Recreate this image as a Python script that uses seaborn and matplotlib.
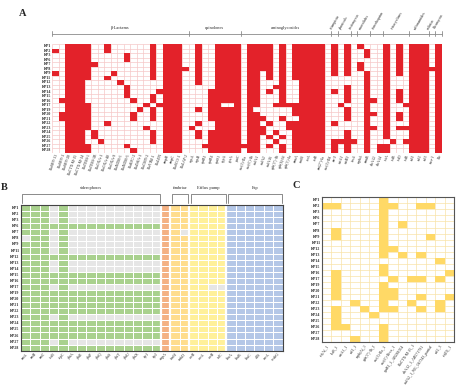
import numpy as np
import pandas as pd
import matplotlib
matplotlib.use('Agg')
from matplotlib import pyplot as plt
from matplotlib.colors import ListedColormap
import seaborn as sns

sns.set_theme(style='white')
plt.rcParams['font.family'] = ['Liberation Serif', 'DejaVu Serif']

W, H = 458, 390
TICK_FS = 2.8

strains = ['KP1', 'KP2', 'KP3', 'KP6', 'KP7', 'KP8', 'KP9', 'KP11', 'KP12', 'KP13', 'KP14', 'KP15',
           'KP16', 'KP17', 'KP19', 'KP20', 'KP21', 'KP22', 'KP23', 'KP24', 'KP25', 'KP26', 'KP27', 'KP28']

# ---- panel A: resistance genes (one string per gene, one char per strain)
res_classes = ['β-Lactams', 'quinolones', 'aminoglycosides', 'rifampicin', 'phenicols', 'fosfomycin',
               'macrolides', 'trimethoprim', 'tetracyclines', 'sulfonamides', 'colistin', 'bleomycin']
res_class_sizes = [21, 8, 14, 1, 2, 1, 2, 2, 4, 3, 1, 1]
res_genes = ['blaSHV-11', 'blaSHV-1', 'blaSHV-28', 'blaCTX-M-15', 'blaCTX-M-14', 'blaTEM-1', 'blaTEM-1B',
             'blaOXA-1', 'blaOXA-48', 'blaOXA-9', 'blaNDM-1', 'blaNDM-5', 'blaKPC-2', 'blaDHA-1',
             'blaCMY-2', 'blaVIM-1', 'blaLEN', 'ampH', 'ampC', 'blaSCO-1', 'blaLAP-2',
             'oqxA', 'oqxB', 'qnrB1', 'qnrB4', 'qnrS1', 'qepA', 'gyrA', 'parC',
             "aac(3)-IIa", "aac(6')-Ib", 'aadA1', 'aadA2', 'aadA16', "aph(3'')-Ib", 'aph(6)-Id',
             "aph(3')-Ia", 'armA', 'rmtB', 'strA', 'strB', "ant(2'')-Ia", 'aac(3)-IId',
             'arr-3', 'catA1', 'catB3', 'fosA', 'mphA', 'ermB', 'dfrA12', 'dfrA14',
             'tetA', 'tetB', 'tetD', 'tetR', 'sul1', 'sul2', 'sul3', 'mcr-1', 'ble']
res_presence = [
    '010000100000000000000000', '000000000000100110000000', '111111111111111111111111',
    '111111111111111111111111', '111111111111111111111111', '111111110000011111100011',
    '000010000000000000011000', '000000000000000000000100', '110000010000000001000000',
    '000000100000000000000000', '000000001000000000000000', '001100000111000000000010',
    '000000000000100110000001', '000000000000001000000000', '000000000000010000100000',
    '111111110001101110011100', '000000000010010000000000', '111111111111111111111111',
    '111111111111111111111111', '111111111111111111111111', '000001000000000000000000',
    '000000000000000000100000', '111111111000001001011000', '000000000000000000000010',
    '000000000011111110011111', '111111111111111111111111', '111111111111101111111111',
    '111111111111101111111111', '111111111111111111111111', '000000000000000000000010',
    '111111111111111111111111', '111111111111110111111111', '111111000000000010110000',
    '111111110010000001001010', '000000000100010000010100', '111111111111110010001011',
    '000000000000010001100000', '111111110000011101111111', '111111111111111111111111',
    '111111111111111111111111', '111111111111111111111111', '111111111111111111111111',
    '000000000000000000000000', '111111100010000001000111', '000000000000010000000100',
    '111111100111101110011111', '000000000000000000000100', '100011000000000000000000',
    '011000111111111111111111', '000000000000100100100000', '000000000000000000000011',
    '111111111111111111111011', '000000000000000000000100', '111111100011100110100000',
    '000000000000010000100100', '111111111111111111111111', '111111111111111111111111',
    '111111111111111111111111', '000001000000000000000000', '111111111111111111111111']

# ---- panel B: virulence genes (one string per strain)
vir_groups = ['siderophores', '', 'fimbriae', 'Efflux pump', 'Esp']
vir_group_sizes = [15, 1, 2, 4, 6]
vir_genes = ['entA', 'entB', 'entC', 'iroB', 'fepC', 'ybtA', 'ybtE', 'ybtP', 'ybtQ', 'ybtS', 'ybtT',
             'ybtU', 'ybtX', 'irp1', 'irp2', 'rmpA', 'fimH', 'mrkD', 'acrR', 'acrA', 'acrB', 'tolC',
             'kfuA', 'kfuB', 'kfuC', 'allS', 'ureA', 'wabG']
vir_presence = [
    '1110100000000001111111111111', '1110100000000001111111111111', '1110100000000001111111111111',
    '1111111111111111111111111111', '1110100000000001101111111111', '0110100000000001111111111111',
    '1110100000000001111111111111', '1110100000000001111111111111', '1111111111111111111111111111',
    '1110100000000001111111111111', '1110100000000001111111111111', '1111111111111111111111111111',
    '1111111111111111111111111111', '1110100000000001111100111111', '1111111111111111111111111111',
    '1111111111111111111111111111', '1111111111111111111111111111', '1111111111111111111111111111',
    '1110100000000001111111111111', '1111111111111111111111111111', '1111111111111111111111111111',
    '1111111111111111111111111111', '1110100000000001111111111111', '1111111111111111111111111111']
vir_colors = ['#e6e6e6', '#a9d18e', '#f4b183', '#ffdd8e', '#fff09a', '#b4c7e7']

# ---- panel C: plasmid / other genes (one string per strain)
pl_genes = ['tet(A)_1', 'floR_1', 'catA1_1', 'sul1_1', 'mph(A)_1', "aph(3'')-Ib_1", 'aac(3)-IIa_1',
            "aac(6')-Ib-cr_1", 'qnrB1_1_AB281054', 'blaCTX-M-15_1', 'dfrA12_1_AB571791',
            'aadA2_1_NG_047343_partial', 'sul2_3', 'tet(D)_1']
pl_presence = [
    '00000010000000', '11000011001100', '00000010000000', '00000010000000', '00000010100000',
    '01000010000000', '01000010000100', '00000010000000', '00000011000000', '00000010101000',
    '00000000000010', '00000010000000', '01000010000001', '01000001011010', '01000010000000',
    '01000011000000', '01000011001001', '00010010010010', '01001011001010', '01000100000000',
    '01000000000000', '01100010000000', '00000010000000', '00010010000000']


def px_axes(fig, x0, y0, x1, y1):
    return fig.add_axes([x0 / W, 1 - y1 / H, (x1 - x0) / W, (y1 - y0) / H])


def grid_under(ax, nr, nc, color):
    ax.hlines(np.arange(nr + 1), 0, nc, color=color, lw=0.5, zorder=0)
    ax.vlines(np.arange(nc + 1), 0, nr, color=color, lw=0.5, zorder=0)


def style_ticks(ax, rot, ha):
    ax.tick_params(length=0, pad=1)
    ax.set_yticklabels(ax.get_yticklabels(), rotation=0, fontsize=TICK_FS, fontweight='bold')
    ax.set_xticklabels(ax.get_xticklabels(), rotation=rot, ha=ha, rotation_mode='anchor',
                       fontsize=TICK_FS)
    ax.set_xlabel('')
    ax.set_ylabel('')


fig = plt.figure(figsize=(W / 100, H / 100), dpi=100)

# ================= A
a_mat = np.array([[int(ch) for ch in col] for col in res_presence]).T
df_a = pd.DataFrame(a_mat, index=strains, columns=res_genes)
axA = px_axes(fig, 52.3, 44, 441.7, 152.7)
grid_under(axA, *df_a.shape, '#f6c8c8')
sns.heatmap(df_a, mask=df_a == 0, cmap=ListedColormap(['#e3222a']), vmin=0, vmax=1, cbar=False,
            xticklabels=True, yticklabels=True, ax=axA)
style_ticks(axA, 70, 'right')

edges = np.cumsum([0] + res_class_sizes)
gray = '#8a8a8a'
axA.plot([0, edges[-1]], [-2.3, -2.3], color=gray, lw=0.6, clip_on=False)
for e in edges:
    axA.plot([e, e], [-2.8, -1.7], color=gray, lw=0.6, clip_on=False)
for i, name in enumerate(res_classes):
    mid = (edges[i] + edges[i + 1]) / 2
    if i < 3:
        axA.text(mid, -3.0, name, ha='center', va='bottom', fontsize=3.2)
    else:
        axA.text(mid - 0.3, -3.0, name, ha='left', va='bottom', rotation=60,
                 rotation_mode='anchor', fontsize=2.8)
fig.text(23 / W, 1 - 13.5 / H, 'A', fontsize=7.5, fontweight='bold', ha='center', va='center')

# ================= B
b_mat = np.array([[int(ch) for ch in row] for row in vir_presence])
group_code = np.repeat(np.arange(1, len(vir_group_sizes) + 1), vir_group_sizes)
df_b = pd.DataFrame(b_mat * group_code, index=strains, columns=vir_genes)
axB = px_axes(fig, 21, 205, 282.5, 350.7)
sns.heatmap(df_b, cmap=ListedColormap(vir_colors), vmin=-0.5, vmax=5.5, cbar=False,
            linewidths=0.5, linecolor='white', xticklabels=True, yticklabels=True, ax=axB)
style_ticks(axB, 45, 'right')
b_edges = np.cumsum([0] + vir_group_sizes)
axB.vlines(b_edges[1:-1], 0, len(strains), color='white', lw=1.6)
for sp in axB.spines.values():
    sp.set_visible(True)
    sp.set_color('#444444')
    sp.set_linewidth(0.8)
for i, name in enumerate(vir_groups):
    if not name:
        continue
    x0, x1 = b_edges[i] + 0.15, b_edges[i + 1] - 0.1
    axB.plot([x0, x0, x1, x1], [-0.3, -1.8, -1.8, -0.3], color=gray, lw=0.7, clip_on=False)
    axB.text((x0 + x1) / 2, -2.4, name, ha='center', va='bottom', fontsize=3.2)
fig.text(4 / W, 1 - 187.5 / H, 'B', fontsize=7.5, fontweight='bold', ha='center', va='center')

# ================= C
c_mat = np.array([[int(ch) for ch in row] for row in pl_presence])
df_c = pd.DataFrame(c_mat, index=strains, columns=pl_genes)
axC = px_axes(fig, 322, 197.3, 454.3, 342.3)
grid_under(axC, *df_c.shape, '#f8e3a8')
sns.heatmap(df_c, mask=df_c == 0, cmap=ListedColormap(['#ffd966']), vmin=0, vmax=1, cbar=False,
            xticklabels=True, yticklabels=True, ax=axC)
style_ticks(axC, 55, 'right')
for sp in axC.spines.values():
    sp.set_visible(True)
    sp.set_color('#555555')
    sp.set_linewidth(0.8)
fig.text(296.5 / W, 1 - 185.5 / H, 'C', fontsize=7.5, fontweight='bold', ha='center', va='center')

fig.savefig('out.png', dpi=100)
